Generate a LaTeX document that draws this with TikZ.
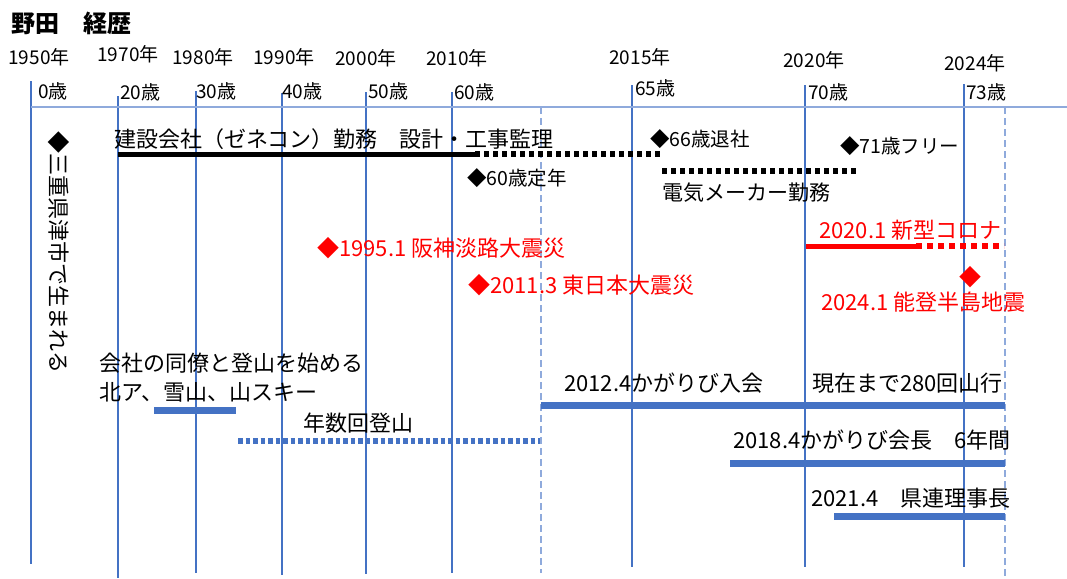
\documentclass[tikz,border=0pt]{standalone}
\usepackage{fontspec}
\setmainfont{Noto Sans CJK JP}
\definecolor{vblue}{HTML}{4472C4}
\definecolor{lblue}{HTML}{8FAADC}
\definecolor{bred}{HTML}{FF0000}
\begin{document}
\begin{tikzpicture}[x=1pt,y=-1pt,
  vline/.style={draw=vblue, line width=1.2pt},
  dline/.style={draw=lblue, line width=1.5pt, dash pattern=on 7pt off 4pt},
  axisline/.style={draw=lblue, line width=2.6pt},
  lbl/.style={inner sep=0pt, anchor=west, font=\fontsize{22}{26}\selectfont},
  sml/.style={inner sep=0pt, anchor=west, font=\fontsize{19.5}{23}\selectfont},
  yr/.style={inner sep=0pt, anchor=center, font=\fontsize{19}{22}\selectfont},
  age/.style={inner sep=0pt, anchor=west, font=\fontsize{19}{22}\selectfont},
  redlbl/.style={lbl, text=bred},
  blackbar/.style={draw=black, line width=5pt},
  blackdots/.style={draw=black, line width=5.5pt, dash pattern=on 5pt off 4pt},
  bluebar/.style={draw=vblue, line width=7pt},
  bluedots/.style={draw=vblue, line width=5.5pt, dash pattern=on 4.5pt off 3pt},
  redbar/.style={draw=bred, line width=5pt},
  reddots/.style={draw=bred, line width=5.5pt, dash pattern=on 5.5pt off 5.5pt}]
\useasboundingbox (0,0) rectangle (1067,578);
\fill[white] (0,0) rectangle (1067,578);

% vertical grid lines
\draw[vline] (31,81) -- (31,564);
\draw[vline] (118,96) -- (118,578);
\draw[vline] (196,91) -- (196,573);
\draw[vline] (282,93) -- (282,575);
\draw[vline] (366,92) -- (366,574);
\draw[vline] (452,92) -- (452,573);
\draw[vline] (632,85) -- (632,567);
\draw[vline] (805,85) -- (805,567);
\draw[vline] (964,84) -- (964,567);
\draw[dline] (541,107) -- (541,573);
\draw[dline] (1005,107) -- (1005,578);
% axis
\draw[axisline] (31,107) -- (1067,107);

% title
\node[inner sep=0pt, anchor=west, font=\fontsize{24}{28}\selectfont\bfseries] (title) at (11,23) {野田　経歴};

% years
\node[yr] (y1950) at (39,57) {1950年};
\node[yr] (y1970) at (128,54) {1970年};
\node[yr] (y1980) at (203,57) {1980年};
\node[yr] (y1990) at (284,57) {1990年};
\node[yr] (y2000) at (366,58) {2000年};
\node[yr] (y2010) at (457,58) {2010年};
\node[yr] (y2015) at (640,57) {2015年};
\node[yr] (y2020) at (814,60) {2020年};
\node[yr] (y2024) at (975,63) {2024年};

% ages
\node[age] (a0) at (38,91) {0歳};
\node[age] (a20) at (120,92) {20歳};
\node[age] (a30) at (196,91) {30歳};
\node[age] (a40) at (282,91) {40歳};
\node[age] (a50) at (368,91) {50歳};
\node[age] (a60) at (454,92) {60歳};
\node[age] (a65) at (635,88) {65歳};
\node[age] (a70) at (808,92) {70歳};
\node[age] (a73) at (966,92) {73歳};

% birth (rotated)
\node[inner sep=0pt, anchor=center, rotate=-90, font=\fontsize{22}{26}\selectfont] (birth) at (59,252) {◆三重県津市で生まれる};

% career
\node[lbl] (zenecon) at (114,139) {建設会社（ゼネコン）勤務　設計・工事監理};
\coordinate (c1s) at (118,154);
\coordinate (c1m) at (475,154);
\coordinate (c1e) at (661,154);
\draw[blackbar] (c1s) -- (c1m);
\draw[blackdots] (c1m) -- (c1e);
\node[sml] (teinen) at (467,178) {◆60歳定年};
\node[sml] (taisha) at (650,139) {◆66歳退社};
\node[sml] (free) at (840,146) {◆71歳フリー};
\coordinate (c2s) at (662,171);
\coordinate (c2e) at (858,171);
\draw[blackdots] (c2s) -- (c2e);
\node[inner sep=0pt, anchor=west, font=\fontsize{21}{25}\selectfont] (denki) at (662,193) {電気メーカー勤務};

% red events
\node[redlbl] (hanshin) at (317,248) {◆1995.1 阪神淡路大震災};
\node[redlbl] (higashi) at (468,285) {◆2011.3 東日本大震災};
\node[redlbl] (corona) at (819,230) {2020.1 新型コロナ};
\coordinate (r1s) at (806,246);
\coordinate (r1m) at (916,246);
\coordinate (r1e) at (1004,246);
\draw[redbar] (r1s) -- (r1m);
\draw[reddots] (r1m) -- (r1e);
\node[inner sep=0pt, anchor=center, text=bred, font=\fontsize{22}{26}\selectfont] (notomark) at (970,277) {◆};
\node[redlbl] (noto) at (821,302) {2024.1 能登半島地震};

% mountaineering
\node[lbl] (doryo) at (99,363) {会社の同僚と登山を始める};
\node[lbl] (kita) at (99,392) {北ア、雪山、山スキー};
\coordinate (m1s) at (154,410);
\coordinate (m1e) at (236,410);
\draw[bluebar] (m1s) -- (m1e);
\node[lbl] (nensu) at (303,423) {年数回登山};
\coordinate (m2s) at (238,441);
\coordinate (m2e) at (540,441);
\draw[bluedots] (m2s) -- (m2e);

\node[lbl] (kagari) at (564,383) {2012.4かがりび入会};
\node[lbl] (genzai) at (812,383) {現在まで280回山行};
\coordinate (k1s) at (541,405);
\coordinate (k1e) at (1005,405);
\draw[bluebar] (k1s) -- (k1e);

\node[lbl] (kaicho) at (733,440) {2018.4かがりび会長　6年間};
\coordinate (k2s) at (730,463);
\coordinate (k2e) at (1005,463);
\draw[bluebar] (k2s) -- (k2e);

\node[lbl] (kenren) at (811,498) {2021.4　県連理事長};
\coordinate (k3s) at (834,516);
\coordinate (k3e) at (1005,516);
\draw[bluebar] (k3s) -- (k3e);
\end{tikzpicture}
\end{document}
